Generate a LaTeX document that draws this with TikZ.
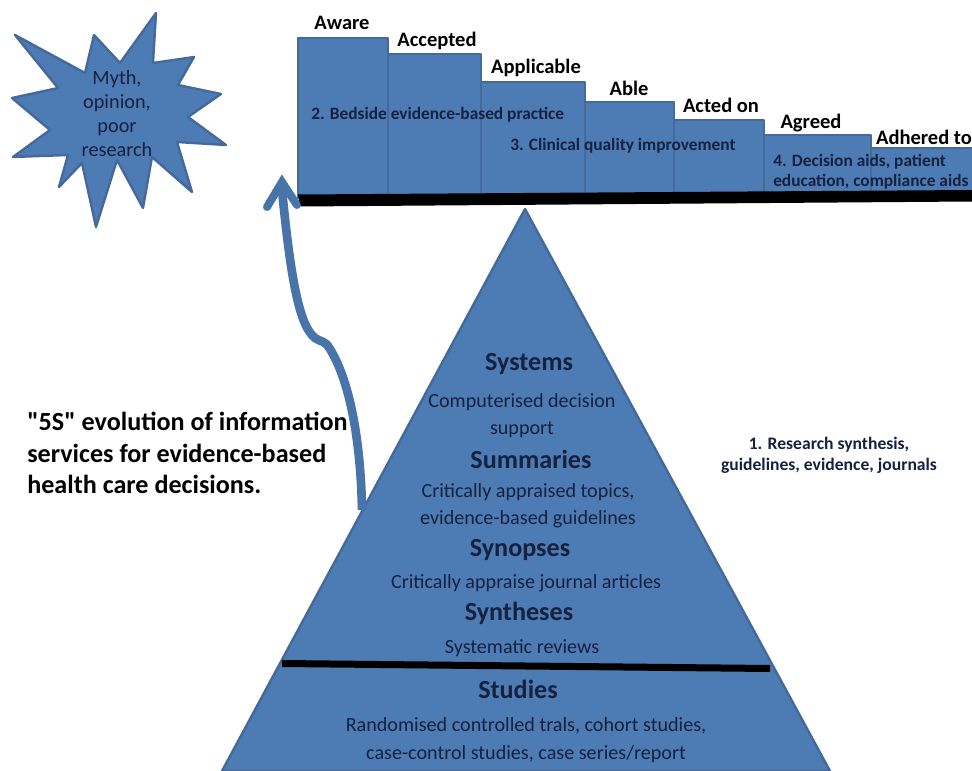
\documentclass[tikz,border=0pt]{standalone}
\usepackage{fontspec}
\setmainfont{Carlito}
\newfontfamily\straightfont{Carlito}
\usetikzlibrary{arrows.meta}
\definecolor{bluefill}{HTML}{4D7BB3}
\definecolor{blueedge}{HTML}{44699A}
\definecolor{inktext}{HTML}{16213F}
\tikzset{
  x=0.75pt,y=-0.75pt,
  shape fill/.style={fill=bluefill,draw=blueedge,line width=1.8pt,line join=round},
  step head/.style={font=\fontsize{15.4pt}{17pt}\selectfont\bfseries,text=black,inner sep=0pt,anchor=center},
  step note/.style={font=\fontsize{13pt}{15pt}\selectfont\bfseries,text=inktext,inner sep=0pt,align=left},
  pyr head/.style={font=\fontsize{19.6pt}{22pt}\selectfont\bfseries,text=inktext,inner sep=0pt},
  pyr text/.style={font=\fontsize{15.1pt}{20.5pt}\selectfont,text=inktext,inner sep=0pt,align=center},
  bar/.style={fill=black,draw=none},
}
\begin{document}
\begin{tikzpicture}
\useasboundingbox (0,0) rectangle (972,771);
% starburst
\draw[shape fill] (15,35)--(85,73)--(94,35)--(120,63)--(156,13)--(153,63)--(194,57)--(178,85)--(221,94)--(188,117)--(226,145)--(177,142)--(192,192)--(152,157)--(143,208)--(117,160)--(96,227)--(82,163)--(59,187)--(68,155)--(13,157)--(50,130)--(12,98)--(58,88)--cycle;
\node[font=\fontsize{15.2pt}{18pt}\selectfont,text=inktext,align=center,inner sep=0pt] (myth) at (117,114) {Myth,\\opinion,\\poor\\research};
% steps
\foreach \xa/\xb/\yt in {298/388/38,388/481/54,481/585/82,585/674/102,674/764/120,764/871/135}{
  \draw[shape fill] (\xa,198)--(\xa,\yt)--(\xb,\yt)--(\xb,198)--cycle;
}
\fill[bluefill] (871,198)--(871,148)--(972,148)--(972,198)--cycle;
\draw[blueedge,line width=1.8pt] (871,198)--(871,148)--(972,148);
\fill[bar] (298,194.5)--(972,190)--(972,201.5)--(300,206.5)--cycle;
\node[step head] (aware) at (342,23) {Aware};
\node[step head] (accepted) at (437,41) {Accepted};
\node[step head] (applicable) at (536,68) {Applicable};
\node[step head] (able) at (629,88) {Able};
\node[step head] (acted) at (721,105) {Acted on};
\node[step head] (agreed) at (811,123) {Agreed};
\node[step head] (adhered) at (924,137) {Adhered to};
\node[step note,anchor=west] (bedside) at (311,115) {2. Bedside evidence-based practice};
\node[step note,anchor=west] (clinical) at (510,146) {3. Clinical quality improvement};
\node[step note,anchor=west] (aids) at (773,172) {4. Decision aids, patient\\education, compliance aids};
% pyramid
\draw[shape fill] (525,209)--(830,771)--(222,771)--cycle;
\fill[bar] (282,660)--(770,665)--(770,672)--(282,667)--cycle;
\node[pyr head] (systems) at (529,364) {Systems};
\node[pyr text] (decision) at (522,415.5) {Computerised decision\\support};
\node[pyr head] (summaries) at (531,459) {Summaries};
\node[pyr text] (topics) at (528,505.5) {Critically appraised topics,\\evidence-based guidelines};
\node[pyr head] (synopses) at (520,550) {Synopses};
\node[pyr text] (articles) at (526,583) {Critically appraise journal articles};
\node[pyr head] (syntheses) at (519,613) {Syntheses};
\node[pyr text] (reviews) at (522,648) {Systematic reviews};
\node[pyr head] (studies) at (518,689) {Studies};
\node[pyr text] (trials) at (526,740) {Randomised controlled trals, cohort studies,\\case-control studies, case series/report};
% side texts
\node[font=\fontsize{13.2pt}{15.5pt}\selectfont\bfseries,text=inktext,align=center,inner sep=0pt] (synth) at (829,455) {1. Research synthesis,\\guidelines, evidence, journals};
\node[font=\fontsize{19.6pt}{23.5pt}\selectfont\bfseries\straightfont,text=black,align=left,inner sep=0pt,anchor=west] (title) at (27,453) {"5S" evolution of information\\services for evidence-based\\health care decisions.};
% arrow
\coordinate (arrowstart) at (362,510);
\coordinate (arrowtip) at (282,182);
\draw[blueedge!40!bluefill,line width=6.5pt] (arrowstart) .. controls (361,450) and (352,385) .. (330,349) .. controls (325,340) and (320,342) .. (315,338) .. controls (298,325) and (290,270) .. (282,190);
\draw[blueedge!40!bluefill,line width=6pt,line cap=round,line join=miter] (267,207)--(arrowtip)--(297,205);
\end{tikzpicture}
\end{document}
